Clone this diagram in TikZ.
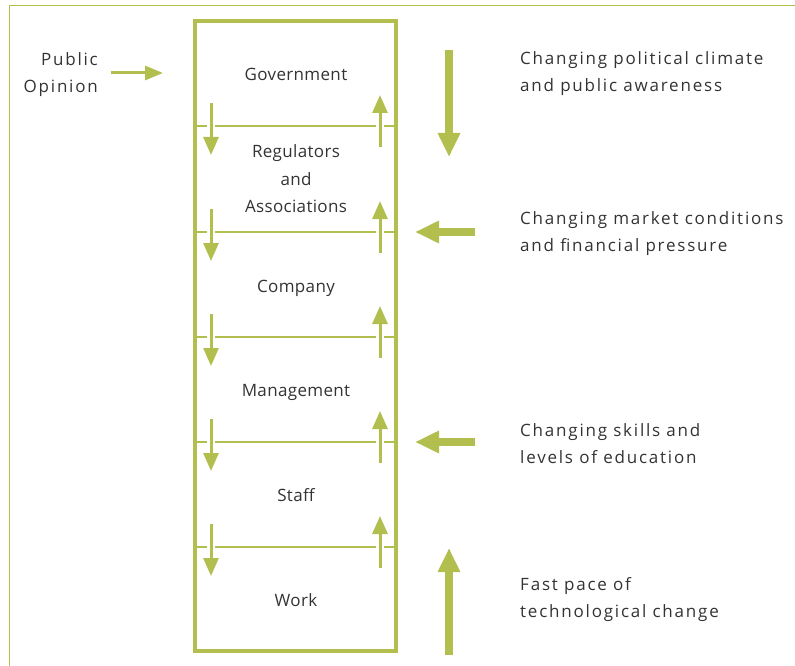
\documentclass[tikz,border=0pt]{standalone}
\usepackage{fontspec}
\setmainfont{Open Sans}
\newfontfamily\spacedfont[LetterSpace=10.5]{Open Sans}
\newfontfamily\levelfont[LetterSpace=2]{Open Sans}
\usetikzlibrary{arrows.meta}
\definecolor{leafgreen}{HTML}{B2BF4E}
\definecolor{txtgray}{HTML}{333333}
\tikzset{
  wall/.style={draw=leafgreen, line width=3.2bp},
  level/.style={font=\levelfont\fontsize{17bp}{27bp}\selectfont, text=txtgray, align=center, inner sep=0, anchor=base},
  note/.style={font=\spacedfont\fontsize{17bp}{27bp}\selectfont, text=txtgray, align=left, inner sep=0, anchor=base west},
  flow/.style={draw=leafgreen, line width=3bp, -{Triangle[width=15bp,length=18bp]},
    preaction={draw=white, line width=7.5bp, -}},
  push/.style={draw=leafgreen, line width=8.5bp, -{Triangle[width=21bp,length=24bp]}}
}

\begin{document}
\begin{tikzpicture}[x=1bp, y=-1bp]
\useasboundingbox (0,0) rectangle (795,666);
% frame
\draw[leafgreen, line width=1.6bp] (9.5,666) -- (9.5,5.5) -- (795,5.5);

% the column of levels
\draw[wall] (195,21) rectangle (396,651);
\foreach \y in {126,232,337,442,547} {
  \draw[leafgreen, line width=2.9bp] (195,\y) -- (396,\y);
  \draw[flow] (211,\y-23) -- (211,\y+29);
  \draw[flow] (380,\y+21) -- (380,\y-31);
}
\node[level] (gov) at (296,81) {Government};
\node[level] (reg) at (296,212) {Regulators\\and\\Associations};
\node[level] (comp) at (296,292) {Company};
\node[level] (mgmt) at (296,396) {Management};
\node[level] (staff) at (296,501) {Staff};
\node[level] (work) at (296,606) {Work};

% outside pressures
\node[font=\spacedfont\fontsize{17bp}{27bp}\selectfont, text=txtgray, align=right, inner sep=0, anchor=base east] (pub) at (98,93) {Public\\Opinion};
\draw[leafgreen, line width=3bp, -{Triangle[width=14bp,length=18bp]}] (111,73) -- (163,73);

\node[note] (pol) at (520,92) {Changing political climate\\and public awareness};
\node[note] (mkt) at (520,251) {Changing market conditions\\and financial pressure};
\node[note] (edu) at (520,463) {Changing skills and\\levels of education};
\node[note] (tech) at (520,617) {Fast pace of\\technological change};

\draw[push] (449,50) -- (449,157);
\draw[push] (475,232) -- (415,232);
\draw[push] (475,442) -- (415,442);
\draw[push] (449,655) -- (449,548);
\end{tikzpicture}
\end{document}
